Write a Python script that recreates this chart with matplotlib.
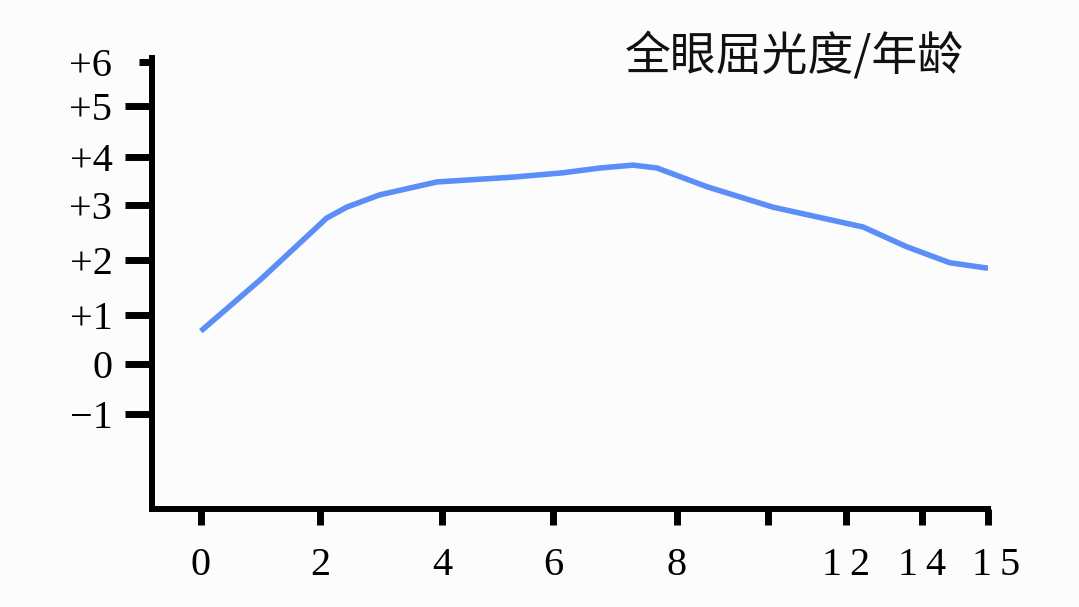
import matplotlib
matplotlib.use('Agg')
import matplotlib.pyplot as plt
import matplotlib.transforms as mtransforms
import numpy as np

# data: age (years) vs total ocular refraction (D)
ages = [0, 1.0, 2.11, 2.44, 2.98, 3.92, 5.28, 6.16, 6.76, 7.29, 7.68,
        8.66, 10.13, 11.41, 12.45, 13.6, 14.42, 15]
refraction = [0.67, 1.64, 2.76, 2.96, 3.21, 3.48, 3.58, 3.67, 3.77, 3.83, 3.77,
              3.38, 2.96, 2.76, 2.6, 2.24, 1.95, 1.85]

x_ticks = [0, 2, 4, 6, 8, 10, 12, 14, 15]
x_labels = ['0', '2', '4', '6', '8', '', '1\u20092', '1\u20094', '1\u20095']
y_ticks = [-1, 0, 1, 2, 3, 4, 5, 6]
y_labels = ['\u22121', '0', '+1', '+2', '+3', '+4', '+5', '+6']
title = '全眼屈光度/年龄'

# the original axes are not evenly spaced, so map values through the tick spacing
x_tick_pos = [201, 320, 442, 553, 677, 768, 846, 922, 988]
y_tick_pos = [-414, -364, -315, -260, -205, -157, -106, -62]


def extend(vals, pos):
    vals = np.asarray(vals, float)
    pos = np.asarray(pos, float)
    s0 = (pos[1] - pos[0]) / (vals[1] - vals[0])
    s1 = (pos[-1] - pos[-2]) / (vals[-1] - vals[-2])
    v = np.concatenate([[vals[0] - 50], vals, [vals[-1] + 50]])
    p = np.concatenate([[pos[0] - 50 * s0], pos, [pos[-1] + 50 * s1]])
    return v, p


xv, xp = extend(x_ticks, x_tick_pos)
yv, yp = extend(y_ticks, y_tick_pos)

fig = plt.figure(figsize=(10.79, 6.07), dpi=100)
fig.patch.set_facecolor('#fcfcfc')
ax = fig.add_axes([152 / 1079, 98 / 607, 836 / 1079, 451 / 607])
ax.set_facecolor('#fcfcfc')

ax.set_xscale('function', functions=(lambda x: np.interp(x, xv, xp), lambda p: np.interp(p, xp, xv)))
ax.set_yscale('function', functions=(lambda y: np.interp(y, yv, yp), lambda p: np.interp(p, yp, yv)))

ax.plot(ages, refraction, color='#5b8ff7', linewidth=4, solid_capstyle='butt', solid_joinstyle='round')

ax.set_xlim(-0.82, 15)
ax.set_ylim(-2.9, 6.09)

for side in ['top', 'right']:
    ax.spines[side].set_visible(False)
for side in ['left', 'bottom']:
    ax.spines[side].set_linewidth(4.3)
    ax.spines[side].set_capstyle('projecting')

ax.set_xticks(x_ticks)
ax.set_xticklabels(x_labels, fontfamily='Liberation Serif')
ax.set_yticks(y_ticks)
ax.set_yticklabels(y_labels, fontfamily='Liberation Serif')
ax.xaxis.set_minor_locator(plt.NullLocator())
ax.yaxis.set_minor_locator(plt.NullLocator())

ax.tick_params(axis='y', length=19.5, width=5, pad=9, labelsize=29, color='black')
ax.tick_params(axis='x', length=11.5, width=5, pad=16, labelsize=29, color='black')

# the top tick on the y axis is drawn shorter
ax.yaxis.get_major_ticks()[-1].tick1line.set_markersize(9.5)

# the last x label sits a little to the right of its tick
last = ax.get_xticklabels()[-1]
last.set_transform(last.get_transform() + mtransforms.ScaledTranslation(0.08, 0, fig.dpi_scale_trans))

fig.text(625 / 1079, 1 - 56 / 607, title, fontsize=33, family=['Noto Sans CJK SC', 'DejaVu Sans'],
         ha='left', va='center', color='#111111')

fig.savefig('out.png', dpi=100, facecolor=fig.get_facecolor())
